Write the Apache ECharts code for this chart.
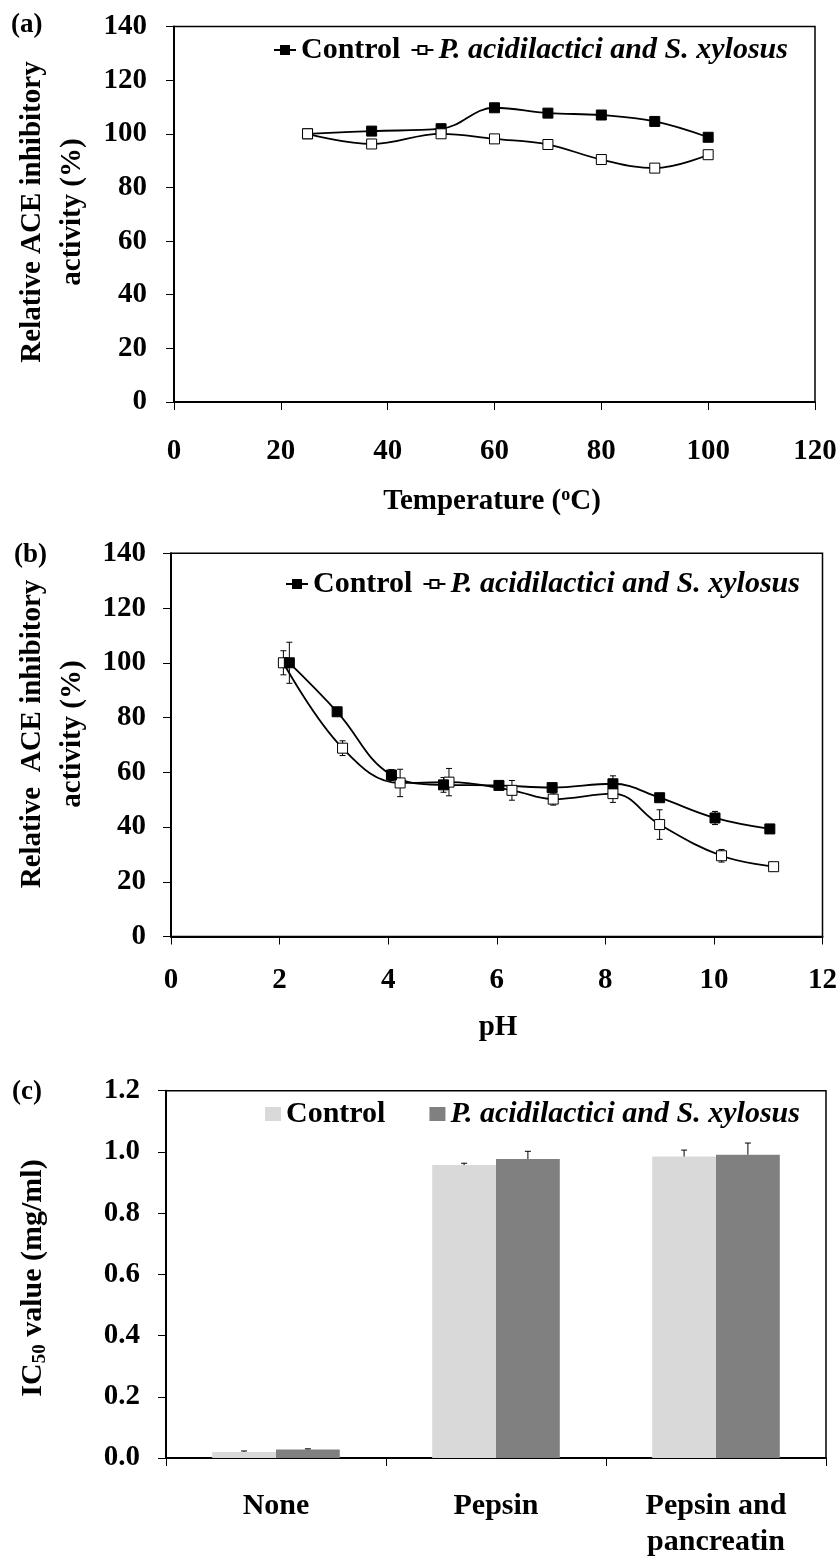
<!DOCTYPE html>
<html>
<head>
<meta charset="utf-8">
<script src="https://cdn.jsdelivr.net/npm/echarts@6/dist/echarts.min.js"></script>
<style>
  html, body { margin: 0; padding: 0; background: #fff; }
  .panel { width: 840px; position: absolute; left: 0; }
  #pa { top: 0; height: 520px; }
  #pb { top: 520px; height: 530px; }
  #pc { top: 1050px; height: 510px; }
</style>
</head>
<body>
<div id="pa" class="panel"></div>
<div id="pb" class="panel"></div>
<div id="pc" class="panel"></div>
<script>
const FONT = '"Liberation Serif", "Times New Roman", serif';

// (a) thermal stability
const tempX = [25, 37, 50, 60, 70, 80, 90, 100];
const tempControl = [100, 101, 101.9, 109.7, 107.7, 107, 104.6, 98.7];
const tempFermented = [100, 96.2, 100, 98.1, 96, 90.4, 87.2, 92.2];
const tempTicks = [0, 20, 40, 60, 80, 100, 120];

// (b) pH stability
const phControlX = [2.18, 3.06, 4.06, 5.02, 6.04, 7.02, 8.14, 9.0, 10.02, 11.03];
const phControl = [100, 82.1, 59.0, 55.4, 55.2, 54.4, 55.8, 50.7, 43.3, 39.3];
const phControlErr = [7.5, 0.8, 2.0, 2.7, 1.0, 0.8, 2.9, 1.0, 2.4, 0.8];
const phFermentedX = [2.07, 3.16, 4.22, 5.12, 6.28, 7.04, 8.14, 9.0, 10.14, 11.1];
const phFermented = [100, 68.8, 56.1, 56.4, 53.4, 50.2, 52.2, 40.9, 29.5, 25.5];
const phFermentedErr = [4.4, 2.7, 5.0, 5.0, 3.6, 2.2, 3.2, 5.4, 2.3, 0.8];
const phTicks = [0, 2, 4, 6, 8, 10, 12];
const activityTicks = [0, 20, 40, 60, 80, 100, 120, 140];

// (c) IC50 after simulated digestion
const digestCategories = ['None', 'Pepsin', 'Pepsin and\npancreatin'];
const ic50Control = [0.020, 0.957, 0.985];
const ic50ControlErr = [0.003, 0.006, 0.021];
const ic50Fermented = [0.028, 0.977, 0.991];
const ic50FermentedErr = [0.002, 0.025, 0.038];
const ic50Ticks = [0, 0.2, 0.4, 0.6, 0.8, 1.0, 1.2];

const NAME_CONTROL = 'Control';
const NAME_FERMENTED = 'P. acidilactici and S. xylosus';

const tickFont = { fontFamily: FONT, fontWeight: 'bold', fontSize: 29, color: '#000' };
const TITLE_FONT = 'bold 29px ' + FONT;

function valueAxis(ticks, labelMargin, extra) {
  return Object.assign({
    type: 'value',
    min: ticks[0],
    max: ticks[ticks.length - 1],
    interval: ticks[1] - ticks[0],
    splitLine: { show: false },
    axisLine: { show: true, onZero: false, lineStyle: { color: '#000', width: 2 } },
    axisTick: { show: true, length: 8, lineStyle: { color: '#000', width: 1 } },
    axisLabel: Object.assign({ margin: labelMargin }, tickFont)
  }, extra || {});
}

function gridBox(left, right, top, height) {
  return { left, right, top, height, show: true, borderColor: '#000', borderWidth: 1.5, backgroundColor: 'transparent' };
}

function panelLabel(text, left, top) {
  return { type: 'text', left, top, style: { text, font: 'bold 27px ' + FONT, fill: '#000' } };
}

function rotatedTitle(x, y, text, rich) {
  return {
    type: 'text', x, y, rotation: Math.PI / 2,
    style: Object.assign({
      text, fill: '#000', font: TITLE_FONT,
      align: 'center', verticalAlign: 'middle', lineHeight: 40
    }, rich ? { rich } : {})
  };
}

function lineLegend(left, top, size) {
  return {
    left, top, itemWidth: 22, itemHeight: 10, itemGap: 10,
    data: [
      { name: NAME_CONTROL, textStyle: { fontStyle: 'normal' } },
      { name: NAME_FERMENTED, textStyle: { fontStyle: 'italic' } }
    ],
    textStyle: { fontFamily: FONT, fontWeight: 'bold', fontSize: size, color: '#000' }
  };
}

function lineSeries(name, xs, ys, filled, size) {
  return {
    type: 'line', name, smooth: 0.4, z: 3,
    data: xs.map((x, i) => [x, ys[i]]),
    symbol: 'rect', symbolSize: size, showAllSymbol: true,
    lineStyle: { color: '#000', width: 1.8 },
    itemStyle: filled ? { color: '#000', borderColor: '#000', borderWidth: 1 }
                      : { color: '#fff', borderColor: '#000', borderWidth: 1 }
  };
}

// vertical ± error bars drawn through the axis scales
function errorBars(label, xs, ys, errs) {
  return {
    type: 'custom', name: label, silent: true, z: 2,
    data: xs.map((x, i) => [x, ys[i], errs[i]]),
    encode: { x: 0, y: 1 },
    renderItem(params, api) {
      const x = api.value(0), y = api.value(1), e = api.value(2);
      const hi = api.coord([x, y + e]);
      const lo = api.coord([x, y - e]);
      const cap = 3;
      const st = { stroke: '#000', lineWidth: 1 };
      return {
        type: 'group',
        children: [
          { type: 'line', shape: { x1: hi[0], y1: hi[1], x2: lo[0], y2: lo[1] }, style: st },
          { type: 'line', shape: { x1: hi[0] - cap, y1: hi[1], x2: hi[0] + cap, y2: hi[1] }, style: st },
          { type: 'line', shape: { x1: lo[0] - cap, y1: lo[1], x2: lo[0] + cap, y2: lo[1] }, style: st }
        ]
      };
    }
  };
}

// ---------- (a) temperature ----------
const chartA = echarts.init(document.getElementById('pa'), null, { renderer: 'canvas' });
chartA.setOption({
  animation: false,
  grid: gridBox(174, 25, 26.5, 375.5),
  legend: lineLegend(268, 30, 30),
  xAxis: valueAxis(tempTicks, 35),
  yAxis: valueAxis(activityTicks, 27),
  series: [
    lineSeries(NAME_CONTROL, tempX, tempControl, true, 10),
    lineSeries(NAME_FERMENTED, tempX, tempFermented, false, 10)
  ],
  graphic: [
    panelLabel('(a)', 11, 12),
    rotatedTitle(53, 212, 'Relative ACE inhibitory\nactivity (%)'),
    {
      type: 'text', x: 492, y: 502,
      style: {
        text: '{t|Temperature (}{s|o}{t|C)}',
        align: 'center', verticalAlign: 'middle',
        rich: {
          t: { font: TITLE_FONT, fill: '#000', lineHeight: 32 },
          s: { font: 'bold 18px ' + FONT, fill: '#000', verticalAlign: 'top', lineHeight: 18 }
        }
      }
    }
  ]
});

// ---------- (b) pH ----------
const chartB = echarts.init(document.getElementById('pb'), null, { renderer: 'canvas' });
chartB.setOption({
  animation: false,
  grid: gridBox(171, 15, 33.3, 383.2),
  legend: lineLegend(280, 44, 30),
  xAxis: valueAxis(phTicks, 30),
  yAxis: valueAxis(activityTicks, 25),
  series: [
    errorBars('Control error', phControlX, phControl, phControlErr),
    errorBars('Fermented error', phFermentedX, phFermented, phFermentedErr),
    lineSeries(NAME_FERMENTED, phFermentedX, phFermented, false, 10),
    lineSeries(NAME_CONTROL, phControlX, phControl, true, 10)
  ],
  graphic: [
    panelLabel('(b)', 14, 22),
    rotatedTitle(53, 214, 'Relative  ACE inhibitory\nactivity (%)'),
    { type: 'text', x: 498, y: 508, style: { text: 'pH', font: TITLE_FONT, fill: '#000', align: 'center', verticalAlign: 'middle' } }
  ]
});

// ---------- (c) IC50 ----------
const BAR_W = 0.29;
function barErrors(label, values, errs, side) {
  return {
    type: 'custom', name: label, silent: true, z: 4,
    data: values.map((v, i) => [i, v, errs[i]]),
    encode: { x: 0, y: 1 },
    renderItem(params, api) {
      const i = api.value(0), v = api.value(1), e = api.value(2);
      const band = api.size([1, 0])[0];
      const base = api.coord([i, v]);
      const top = api.coord([i, v + e]);
      const cx = base[0] + side * band * BAR_W / 2;
      const cap = 3;
      const st = { stroke: '#000', lineWidth: 1 };
      return {
        type: 'group',
        children: [
          { type: 'line', shape: { x1: cx, y1: base[1], x2: cx, y2: top[1] }, style: st },
          { type: 'line', shape: { x1: cx - cap, y1: top[1], x2: cx + cap, y2: top[1] }, style: st }
        ]
      };
    }
  };
}

const chartC = echarts.init(document.getElementById('pc'), null, { renderer: 'canvas' });
chartC.setOption({
  animation: false,
  grid: gridBox(166, 14, 40.7, 374.8),
  legend: {
    left: 260, top: 44, itemWidth: 16, itemHeight: 14, itemGap: 44,
    icon: 'rect',
    data: [
      { name: NAME_CONTROL, textStyle: { fontStyle: 'normal' } },
      { name: NAME_FERMENTED, textStyle: { fontStyle: 'italic' } }
    ],
    textStyle: { fontFamily: FONT, fontWeight: 'bold', fontSize: 30, color: '#000' }
  },
  xAxis: {
    type: 'category',
    data: digestCategories,
    axisLine: { show: true, lineStyle: { color: '#000', width: 2 } },
    axisTick: { show: true, length: 8, lineStyle: { color: '#000', width: 1 } },
    axisLabel: Object.assign({}, tickFont, { margin: 30, lineHeight: 36, interval: 0, fontSize: 30 })
  },
  yAxis: valueAxis(ic50Ticks, 26, {
    axisLabel: Object.assign({ margin: 26, formatter: v => v.toFixed(1) }, tickFont)
  }),
  series: [
    { type: 'bar', name: NAME_CONTROL, data: ic50Control, barWidth: (BAR_W * 100) + '%', barGap: '0%', itemStyle: { color: '#d9d9d9' } },
    { type: 'bar', name: NAME_FERMENTED, data: ic50Fermented, barWidth: (BAR_W * 100) + '%', barGap: '0%', itemStyle: { color: '#808080' } },
    barErrors('Control error', ic50Control, ic50ControlErr, -1),
    barErrors('Fermented error', ic50Fermented, ic50FermentedErr, 1)
  ],
  graphic: [
    panelLabel('(c)', 12, 29),
    rotatedTitle(33, 228, '{t|IC}{s|50}{t| value (mg/ml)}', {
      t: { font: 'bold 30px ' + FONT, fill: '#000', lineHeight: 34 },
      s: { font: 'bold 19px ' + FONT, fill: '#000', verticalAlign: 'bottom', lineHeight: 19 }
    })
  ]
});
</script>
</body>
</html>
